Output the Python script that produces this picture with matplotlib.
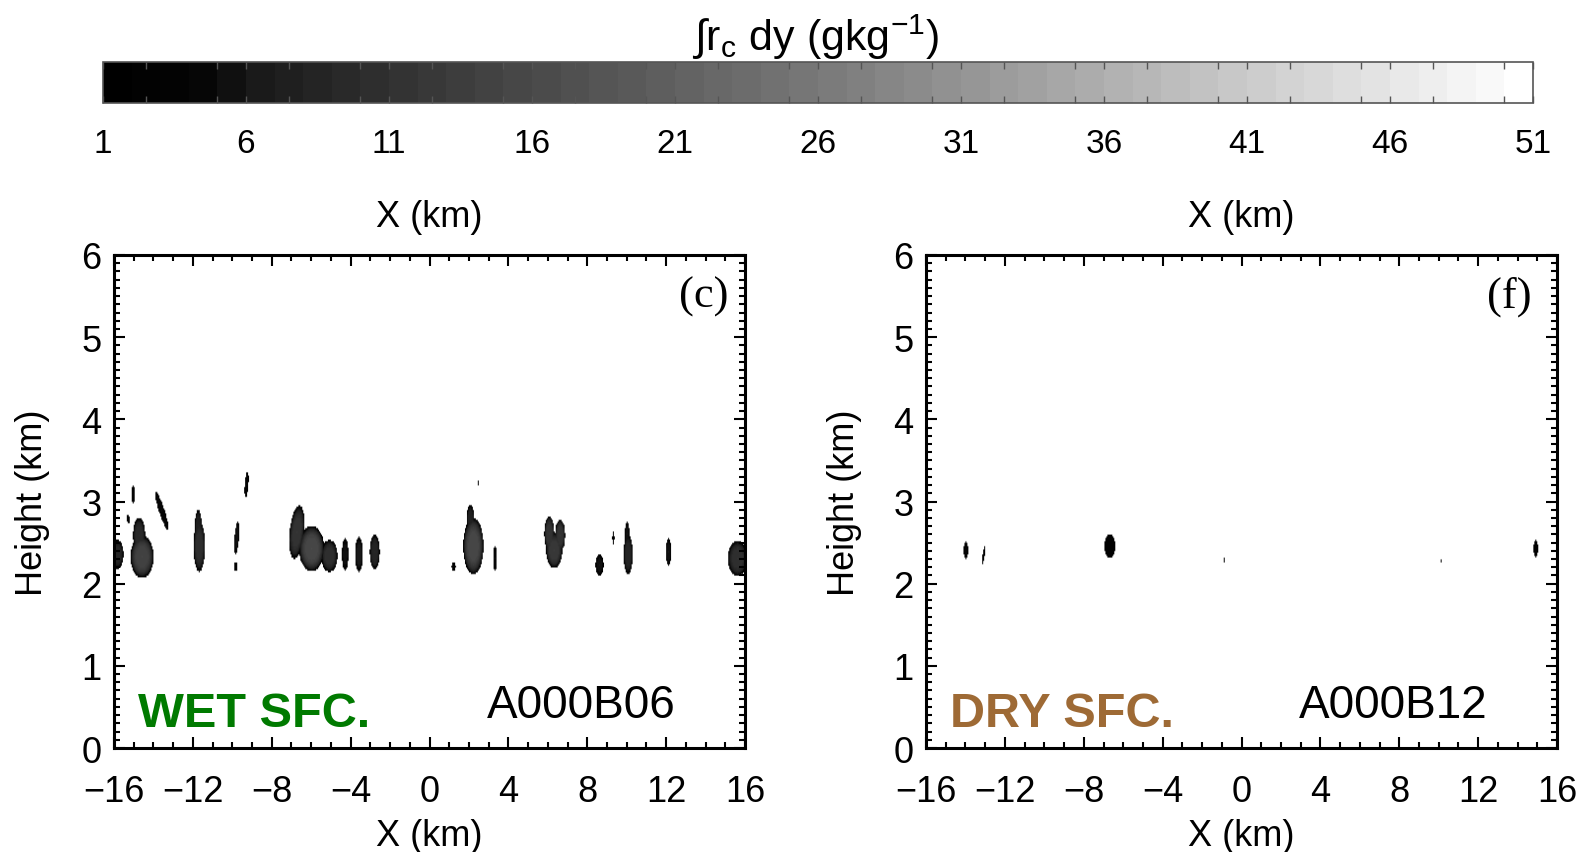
import numpy as np
import matplotlib.pyplot as plt
from matplotlib.colors import LinearSegmentedColormap, Normalize
from matplotlib.cm import ScalarMappable
from matplotlib.ticker import MultipleLocator

plt.rcParams['font.family'] = ['Liberation Sans', 'DejaVu Sans']
plt.rcParams['mathtext.fontset'] = 'custom'
plt.rcParams['mathtext.rm'] = 'Liberation Sans'
plt.rcParams['mathtext.it'] = 'Liberation Sans'

# integrated cloud water levels (g/kg) and colour bar labels
cbar_min, cbar_max = 1, 51
cbar_labels = [1, 6, 11, 16, 21, 26, 31, 36, 41, 46, 51]
x_ticks = [-16, -12, -8, -4, 0, 4, 8, 12, 16]
z_ticks = [0, 1, 2, 3, 4, 5, 6]

# cloud cells, wet surface run: centre x, centre z, half width, half height,
# peak value, lean (km of x per km of z)
wet_xc = [-14.6, -14.75, -15.85, -15.05, -15.3, -13.6, -11.7, -11.75, -9.8, -9.85, -9.3,
          -6.75, -6.0, -5.1, -4.3, -3.6, -2.8,
          2.2, 2.05, 1.2, 2.45, 3.3, 6.05, 6.6, 6.3, 8.6, 10.05, 10.0, 9.3, 12.1, 15.6]
wet_zc = [2.32, 2.58, 2.35, 3.08, 2.78, 2.88, 2.45, 2.7, 2.55, 2.2, 3.2,
          2.62, 2.42, 2.33, 2.35, 2.35, 2.38,
          2.45, 2.78, 2.2, 3.22, 2.3, 2.6, 2.58, 2.4, 2.22, 2.35, 2.6, 2.55, 2.38, 2.3]
wet_hw = [0.6, 0.32, 0.32, 0.08, 0.07, 0.16, 0.3, 0.18, 0.12, 0.09, 0.1,
          0.38, 0.65, 0.42, 0.17, 0.2, 0.26,
          0.52, 0.2, 0.12, 0.05, 0.1, 0.26, 0.26, 0.42, 0.22, 0.24, 0.12, 0.06, 0.14, 0.5]
wet_hh = [0.26, 0.22, 0.18, 0.12, 0.06, 0.24, 0.32, 0.2, 0.2, 0.06, 0.17,
          0.33, 0.28, 0.2, 0.2, 0.22, 0.22,
          0.35, 0.18, 0.05, 0.04, 0.15, 0.22, 0.2, 0.22, 0.13, 0.25, 0.15, 0.08, 0.18, 0.22]
wet_peak = [15, 10, 9, 4, 3, 5, 11, 8, 6, 4, 4,
            12, 16, 11, 6, 7, 9,
            16, 8, 3, 2, 5, 12, 12, 13, 6, 9, 6, 3, 6, 11]
wet_lean = [0, 0, 0, 0, -0.3, -1.3, 0, 0, 0.3, 0, 0.3,
            0.4, 0, 0, 0, 0, 0,
            0, 0, 0, 0, 0, 0, 0, 0, 0, 0, 0, 0, 0, 0]

# cloud cells, dry surface run
dry_xc = [-14.0, -13.1, -6.7, -0.9, 10.1, 14.9]
dry_zc = [2.4, 2.34, 2.45, 2.28, 2.27, 2.42]
dry_hw = [0.12, 0.07, 0.3, 0.05, 0.05, 0.12]
dry_hh = [0.12, 0.15, 0.16, 0.04, 0.03, 0.12]
dry_peak = [4, 2, 3, 2, 1.6, 3]
dry_lean = [0, 0.6, 0, 0, 0, 0]

x = np.linspace(-16, 16, 641)
z = np.linspace(0, 6, 301)
X, Z = np.meshgrid(x, z)


def cloud_field(xc, zc, hw, hh, peak, lean):
    f = np.zeros_like(X)
    for i in range(len(xc)):
        dx = X - (xc[i] + lean[i] * (Z - zc[i]))
        r2 = (dx / hw[i]) ** 2 + ((Z - zc[i]) / hh[i]) ** 2
        f = np.maximum(f, peak[i] * (1 - r2 ** 2))
    return np.ma.masked_less(f, cbar_min)


cmap = LinearSegmentedColormap.from_list(
    'cloudgray',
    [(0.0, '#000000'), (0.06, '#050505'), (0.1, '#1a1a1a'), (0.3, '#4a4a4a'),
     (0.5, '#787878'), (0.7, '#aeaeae'), (0.9, '#e4e4e4'), (1.0, '#ffffff')], N=50)
cmap.set_bad('white')
norm = Normalize(cbar_min, cbar_max)

fig = plt.figure(figsize=(15.9, 8.53), dpi=100)

panels = [
    dict(pos=[0.0717, 0.1219, 0.3969, 0.578], field=cloud_field(wet_xc, wet_zc, wet_hw, wet_hh, wet_peak, wet_lean),
         tag='(c)', tag_x=13.9, surf='WET SFC.', surf_color='#007a00', run='A000B06', ylab_x=33 / 1590),
    dict(pos=[0.5824, 0.1219, 0.3969, 0.578], field=cloud_field(dry_xc, dry_zc, dry_hw, dry_hh, dry_peak, dry_lean),
         tag='(f)', tag_x=13.6, surf='DRY SFC.', surf_color='#9e6a35', run='A000B12', ylab_x=845 / 1590),
]

for p in panels:
    ax = fig.add_axes(p['pos'])
    ax.imshow(p['field'], extent=[-16, 16, 0, 6], origin='lower', aspect='auto',
              cmap=cmap, norm=norm, interpolation='bilinear')
    ax.set_xlim(-16, 16)
    ax.set_ylim(0, 6)
    ax.set_xticks(x_ticks)
    ax.set_xticklabels([str(t).replace('-', '\u2212') for t in x_ticks])
    ax.set_yticks(z_ticks)
    ax.xaxis.set_minor_locator(MultipleLocator(1))
    ax.yaxis.set_minor_locator(MultipleLocator(0.1))
    ax.tick_params(which='both', direction='in', top=True, right=True, width=1.5)
    ax.tick_params(which='major', length=8, labelsize=26)
    ax.tick_params(axis='x', which='major', pad=19)
    ax.tick_params(axis='y', which='major', pad=9)
    ax.tick_params(which='minor', length=4)
    for s in ax.spines.values():
        s.set_linewidth(2.2)
    ax.set_xlabel('X (km)', fontsize=26, labelpad=6)
    ax.annotate('X (km)', xy=(0.5, 1), xycoords='axes fraction', xytext=(0, 28),
                textcoords='offset points', ha='center', va='center', fontsize=26)
    fig.text(p['ylab_x'], 0.1219 + 0.578 / 2, 'Height (km)', rotation=90,
             ha='center', va='center', fontsize=26)
    ax.text(p['tag_x'], 5.5, p['tag'], family=['Liberation Serif'], fontsize=32,
            ha='center', va='center')
    ax.text(-14.8, 0.27, p['surf'], color=p['surf_color'], fontsize=35,
            fontweight='bold', ha='left', va='baseline')
    ax.text(2.9, 0.38, p['run'], fontsize=33, ha='left', va='baseline')

# colour bar across the top
cax = fig.add_axes([0.0648, 0.878, 0.8994, 0.048])
cb = fig.colorbar(ScalarMappable(norm=norm, cmap=cmap), cax=cax, orientation='horizontal')
cb.set_ticks(cbar_labels)
cb.ax.xaxis.set_minor_locator(MultipleLocator(2.5))
cb.ax.tick_params(which='both', direction='in', top=True, bottom=True, length=5,
                  width=1, color='#555555', labelsize=24, pad=18)
cb.outline.set_edgecolor('#555555')
cb.outline.set_linewidth(1.2)
fig.text(816 / 1590, 1 - 37 / 853, r'$\int$r$_{\rm c}$ dy (gkg$^{-1}$)',
         ha='center', va='center', fontsize=31)

fig.savefig('out.png', dpi=100)
